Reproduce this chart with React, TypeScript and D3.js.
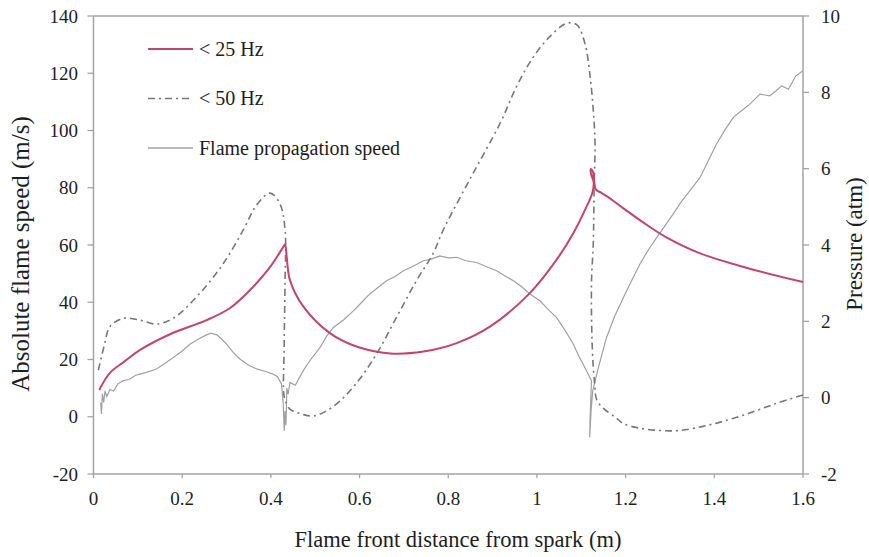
import React from "react";
import * as d3 from "d3";

// ---- Data ----
// x ticks (m)
const xTicks = [0, 0.2, 0.4, 0.6, 0.8, 1, 1.2, 1.4, 1.6];
const leftTicks = [-20, 0, 20, 40, 60, 80, 100, 120, 140];
const rightTicks = [-2, 0, 2, 4, 6, 8, 10];

// < 25 Hz pressure (atm)
const p25X = [0.013, 0.037, 0.07, 0.105, 0.18, 0.255, 0.308, 0.353, 0.398, 0.428, 0.432, 0.436, 0.443, 0.473, 0.533, 0.593, 0.669, 0.744, 0.819, 0.894, 0.984, 1.044, 1.082, 1.11, 1.125, 1.128, 1.122, 1.121, 1.126, 1.129, 1.133, 1.145, 1.16, 1.195, 1.25, 1.292, 1.368, 1.48, 1.6];
const p25Y = [0.20, 0.65, 0.95, 1.25, 1.70, 2.03, 2.35, 2.82, 3.42, 3.95, 4.02, 3.65, 3.08, 2.39, 1.69, 1.34, 1.16, 1.21, 1.43, 1.86, 2.74, 3.61, 4.31, 4.96, 5.37, 5.63, 5.86, 5.99, 5.93, 5.67, 5.45, 5.37, 5.26, 4.96, 4.51, 4.20, 3.78, 3.38, 3.03];

// < 50 Hz pressure (atm)
const p50X = [0.011, 0.025, 0.037, 0.067, 0.105, 0.142, 0.18, 0.24, 0.293, 0.338, 0.368, 0.398, 0.42, 0.432, 0.432, 0.43, 0.43, 0.436, 0.443, 0.47, 0.496, 0.541, 0.593, 0.639, 0.684, 0.729, 0.766, 0.789, 0.85, 0.917, 0.954, 0.992, 1.029, 1.067, 1.09, 1.108, 1.12, 1.127, 1.131, 1.129, 1.127, 1.123, 1.125, 1.13, 1.135, 1.15, 1.18, 1.195, 1.232, 1.277, 1.322, 1.39, 1.465, 1.54, 1.6];
const p50Y = [0.72, 1.40, 1.86, 2.08, 2.03, 1.93, 2.08, 2.74, 3.52, 4.40, 5.05, 5.36, 5.09, 4.40, 3.08, 1.34, 0.02, -0.17, -0.30, -0.43, -0.48, -0.23, 0.38, 1.16, 2.12, 3.08, 3.78, 4.40, 5.75, 7.19, 8.15, 8.93, 9.46, 9.81, 9.77, 9.29, 8.41, 7.54, 6.67, 5.52, 4.02, 3.00, 1.25, 0.38, -0.06, -0.28, -0.54, -0.68, -0.80, -0.86, -0.86, -0.71, -0.46, -0.15, 0.07];

// Flame propagation speed (m/s)
const fsX = [0.016, 0.018, 0.02, 0.023, 0.026, 0.03, 0.037, 0.045, 0.055, 0.067, 0.08, 0.095, 0.105, 0.12, 0.142, 0.16, 0.18, 0.2, 0.218, 0.235, 0.255, 0.265, 0.278, 0.29, 0.3, 0.315, 0.33, 0.35, 0.368, 0.385, 0.405, 0.415, 0.424, 0.428, 0.43, 0.432, 0.434, 0.436, 0.439, 0.443, 0.455, 0.473, 0.49, 0.511, 0.525, 0.541, 0.565, 0.586, 0.605, 0.623, 0.64, 0.661, 0.68, 0.699, 0.72, 0.744, 0.76, 0.781, 0.8, 0.819, 0.84, 0.864, 0.885, 0.909, 0.93, 0.947, 0.965, 0.984, 1.007, 1.025, 1.044, 1.062, 1.082, 1.095, 1.104, 1.115, 1.123, 1.12, 1.119, 1.122, 1.126, 1.14, 1.157, 1.175, 1.195, 1.215, 1.232, 1.25, 1.27, 1.29, 1.307, 1.325, 1.345, 1.368, 1.385, 1.405, 1.425, 1.443, 1.462, 1.48, 1.503, 1.525, 1.54, 1.552, 1.567, 1.584, 1.6];
const fsY = [5, 1, 8, 5, 9, 7, 9.5, 9, 11.5, 12.6, 13, 14.5, 14.9, 15.5, 16.7, 18.5, 20.7, 23, 25.4, 27, 28.6, 29.2, 28.6, 27, 25.4, 22.5, 20.2, 18, 16.7, 16, 14.9, 14, 11.4, 4, -5, 2, -3, 10, 7.9, 12, 11, 16.1, 20, 24.2, 28, 31.2, 34, 37, 40, 42.9, 45, 47.5, 49, 51, 52.5, 54.5, 55, 56.2, 55.5, 55.7, 54.5, 53.9, 52.5, 51, 49, 47.5, 45.5, 42.9, 40.5, 37.5, 34.7, 30.5, 25.4, 21, 18.4, 15, 12.6, 0, -7.2, 2, 9.1, 18, 27.7, 35, 41.7, 48, 53.3, 58, 62.6, 67, 70.8, 75, 79, 83.6, 89, 95.3, 100.5, 104.6, 107, 109.2, 112.7, 112.1, 114, 115.6, 114.4, 119.1, 120.9];

const legendLabels = ["< 25 Hz", "< 50 Hz", "Flame propagation speed"];

const W = 869;
const H = 557;
const L = 93.5, R = 803, T = 16, B = 474;
const FONT = "'Liberation Serif', 'Times New Roman', serif";
const AXIS = "#a3a3a3";
const RED = "#c4456b";
const DASH = "#777777";
const GRAY = "#a0a0a0";
const TXT = "#1e1e1e";

export default function App() {
  const x = d3.scaleLinear().domain([0, 1.6]).range([L, R]);
  const yL = d3.scaleLinear().domain([-20, 140]).range([B, T]);
  const yR = d3.scaleLinear().domain([-2, 10]).range([B, T]);

  const zip = (xs: number[], ys: number[]) => xs.map((v, i) => [v, ys[i]] as [number, number]);
  const lineR = d3.line<[number, number]>().x(d => x(d[0])).y(d => yR(d[1])).curve(d3.curveCatmullRom.alpha(0.5));
  const lineL = d3.line<[number, number]>().x(d => x(d[0])).y(d => yL(d[1]));

  const legendStyles = [
    { stroke: RED, dash: undefined as string | undefined, w: 2 },
    { stroke: DASH, dash: "7,4,2,4", w: 1.6 },
    { stroke: GRAY, dash: undefined, w: 1.3 },
  ];
  const ts = { fontFamily: FONT };

  return (
    <svg width={W} height={H} style={{ position: "absolute", left: 0, top: 0, background: "#fff" }}>
      {/* frame */}
      <line x1={L} x2={R} y1={T} y2={T} stroke={AXIS} strokeWidth={1.5} />
      <line x1={R} x2={R} y1={T} y2={B} stroke={AXIS} strokeWidth={1.5} />
      <line x1={L} x2={L} y1={T} y2={B} stroke={AXIS} strokeWidth={1.5} />
      <line x1={L} x2={R} y1={B} y2={B} stroke={AXIS} strokeWidth={1.5} />

      {/* left ticks */}
      {leftTicks.map(t => (
        <g key={"l" + t}>
          <line x1={L - 6} x2={L} y1={yL(t)} y2={yL(t)} stroke={AXIS} strokeWidth={1.3} />
          <text x={78} y={yL(t) + 6.5} textAnchor="end" fontSize={19} fill={TXT} style={ts}>{t}</text>
        </g>
      ))}
      {/* right ticks */}
      {rightTicks.map(t => (
        <g key={"r" + t}>
          <line x1={R} x2={R + 6} y1={yR(t)} y2={yR(t)} stroke={AXIS} strokeWidth={1.3} />
          <text x={821} y={yR(t) + 6.5} textAnchor="start" fontSize={19} fill={TXT} style={ts}>{t}</text>
        </g>
      ))}
      {/* bottom ticks */}
      {xTicks.map(t => (
        <g key={"x" + t}>
          <line x1={x(t)} x2={x(t)} y1={B} y2={B + 4} stroke={AXIS} strokeWidth={1.3} />
          <text x={x(t)} y={505} textAnchor="middle" fontSize={19} fill={TXT} style={ts}>{t}</text>
        </g>
      ))}

      {/* axis titles */}
      <text x={458} y={547} textAnchor="middle" fontSize={22.5} fill={TXT} style={ts}>Flame front distance from spark (m)</text>
      <text transform={`translate(29,254) rotate(-90)`} textAnchor="middle" fontSize={25} fill={TXT} style={ts}>Absolute flame speed (m/s)</text>
      <text transform={`translate(862,244) rotate(-90)`} textAnchor="middle" fontSize={23} fill={TXT} style={ts}>Pressure (atm)</text>

      {/* series */}
      <path d={lineL(zip(fsX, fsY)) || ""} fill="none" stroke={GRAY} strokeWidth={1.2} />
      <path d={lineR(zip(p50X, p50Y)) || ""} fill="none" stroke={DASH} strokeWidth={1.6} strokeDasharray="7,4,2,4" />
      <path d={lineR(zip(p25X, p25Y)) || ""} fill="none" stroke={RED} strokeWidth={2} />

      {/* legend */}
      {legendLabels.map((lab, i) => {
        const yy = 49 + i * 49.5;
        const s = legendStyles[i];
        return (
          <g key={lab}>
            <line x1={148} x2={193} y1={yy} y2={yy} stroke={s.stroke} strokeWidth={s.w} strokeDasharray={s.dash} />
            <text x={199} y={yy + 6.5} fontSize={20} fill={TXT} style={ts}>{lab}</text>
          </g>
        );
      })}
    </svg>
  );
}
